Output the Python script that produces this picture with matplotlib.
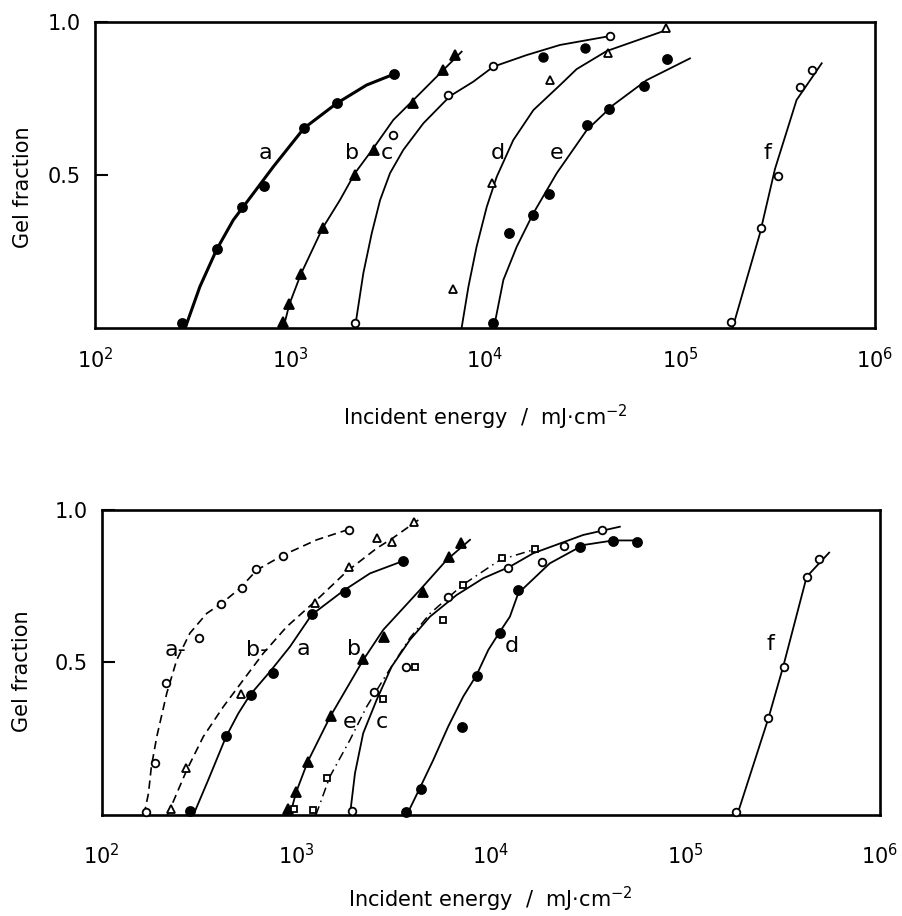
import numpy as np
import matplotlib
matplotlib.use("Agg")
import matplotlib.pyplot as plt

# ---------------- top panel data ----------------
# a : filled circles, thick line
ta_x = [278, 421, 569, 738, 1180, 1734, 3428]
ta_y = [0.015, 0.257, 0.396, 0.465, 0.653, 0.734, 0.830]
ta_cx = [290, 345, 421, 512, 649, 821, 1180, 1734, 2471, 3428]
ta_cy = [0.0, 0.135, 0.257, 0.353, 0.44, 0.527, 0.653, 0.734, 0.794, 0.830]
# b : filled triangles
tb_x = [925, 993, 1137, 1468, 2154, 2704, 4285, 6070, 7020]
tb_y = [0.02, 0.078, 0.176, 0.326, 0.50, 0.582, 0.734, 0.843, 0.892]
tb_cx = [925, 993, 1137, 1468, 1803, 2153, 2673, 3388, 4467, 5875, 7586]
tb_cy = [0.0, 0.078, 0.176, 0.326, 0.418, 0.506, 0.587, 0.680, 0.756, 0.832, 0.903]
# c : open circles (+ two filled circles)
tc_x = [2154, 3367, 6490, 10940, 44000]
tc_y = [0.015, 0.631, 0.761, 0.856, 0.954]
tc_fx = [19770, 32550]
tc_fy = [0.885, 0.916]
tc_cx = [2153, 2377, 2624, 2897, 3258, 3811, 4831, 6622, 8710, 11040, 16370, 24270, 43750]
tc_cy = [0.0, 0.179, 0.309, 0.418, 0.506, 0.582, 0.669, 0.758, 0.805, 0.854, 0.892, 0.925, 0.954]
# d : open triangles
td_x = [6890, 10820, 21530, 42500, 84700]
td_y = [0.126, 0.475, 0.810, 0.900, 0.979]
td_cx = [7586, 8222, 9057, 10210, 11480, 13960, 17700, 24270, 29510, 42070, 85510]
td_cy = [0.0, 0.135, 0.266, 0.396, 0.494, 0.614, 0.712, 0.794, 0.846, 0.905, 0.974]
# e : filled circles
te_x = [11040, 13340, 17550, 21370, 33180, 43350, 65300, 86000]
te_y = [0.015, 0.311, 0.369, 0.437, 0.663, 0.715, 0.791, 0.880]
te_cx = [11100, 12420, 14550, 17700, 23330, 33270, 45500, 67450, 112500]
te_cy = [0.0, 0.157, 0.266, 0.375, 0.506, 0.647, 0.729, 0.810, 0.881]
# f : open circles
tf_x = [182000, 259000, 316800, 412000, 478000]
tf_y = [0.02, 0.326, 0.497, 0.786, 0.843]
tf_cx = [186000, 257000, 307000, 396000, 533000]
tf_cy = [0.0, 0.309, 0.52, 0.745, 0.865]

# ---------------- bottom panel data ----------------
# a' : open circles, dashed
ba2_x = [168, 188, 213, 316, 410, 524, 621, 851, 1870]
ba2_y = [0.011, 0.171, 0.434, 0.581, 0.692, 0.743, 0.806, 0.849, 0.934]
ba2_cx = [165, 174, 180, 192, 216, 243, 284, 347, 414, 514, 627, 857, 1274, 1816]
ba2_cy = [0.0, 0.071, 0.158, 0.257, 0.399, 0.508, 0.596, 0.661, 0.694, 0.743, 0.803, 0.852, 0.902, 0.934]
# b' : open triangles, dashed
bb2_x = [226, 271, 520, 1248, 1870, 2590, 3090, 4030]
bb2_y = [0.019, 0.153, 0.396, 0.696, 0.812, 0.907, 0.896, 0.962]
bb2_cx = [218, 274, 333, 422, 535, 677, 893, 1274, 1816, 2600, 3090, 4240]
bb2_cy = [0.0, 0.148, 0.257, 0.355, 0.443, 0.530, 0.617, 0.705, 0.798, 0.875, 0.905, 0.967]
# a : filled circles
ba_x = [286, 435, 583, 757, 1208, 1778, 3548]
ba_y = [0.014, 0.259, 0.393, 0.464, 0.658, 0.732, 0.831]
ba_cx = [296, 353, 436, 504, 578, 733, 929, 1199, 1746, 2393, 3483]
ba_cy = [0.0, 0.115, 0.257, 0.333, 0.393, 0.470, 0.552, 0.656, 0.735, 0.792, 0.831]
# b : filled triangles
bb_x = [904, 998, 1146, 1507, 2208, 2833, 4467, 6110, 7000]
bb_y = [0.019, 0.074, 0.175, 0.325, 0.511, 0.583, 0.732, 0.847, 0.89]
bb_cx = [929, 998, 1146, 1493, 2208, 2800, 4325, 5930, 7816]
bb_cy = [0.0, 0.074, 0.175, 0.322, 0.508, 0.607, 0.738, 0.836, 0.902]
# e : open squares, dash-dot
be_x = [977, 1222, 1433, 2780, 4070, 5650, 7160, 11350, 16850]
be_y = [0.019, 0.016, 0.120, 0.380, 0.486, 0.639, 0.754, 0.842, 0.871]
be_cx = [1262, 1489, 1888, 2301, 2858, 3837, 4864, 7160, 11140, 16850]
be_cy = [0.0, 0.126, 0.246, 0.355, 0.453, 0.58, 0.66, 0.754, 0.836, 0.871]
# c : open circles
bc_x = [1928, 2518, 3660, 6040, 12300, 18240, 23800, 37100]
bc_y = [0.014, 0.402, 0.484, 0.716, 0.809, 0.828, 0.882, 0.934]
bc_cx = [1888, 2004, 2208, 2588, 3090, 3837, 4864, 6668, 9141, 12530, 16520, 29850, 46030]
bc_cy = [0.0, 0.137, 0.268, 0.377, 0.486, 0.574, 0.650, 0.721, 0.776, 0.814, 0.858, 0.918, 0.945]
# d : filled circles
bd_x = [3660, 4360, 7080, 8450, 11140, 13840, 28700, 42600, 56100]
bd_y = [0.011, 0.084, 0.288, 0.456, 0.598, 0.738, 0.878, 0.898, 0.896]
bd_cx = [3700, 4285, 5058, 6039, 7211, 8453, 9705, 11140, 12530, 13840, 20100, 29900, 42600, 56100]
bd_cy = [0.0, 0.084, 0.180, 0.290, 0.388, 0.459, 0.541, 0.601, 0.650, 0.727, 0.825, 0.885, 0.90, 0.90]
# f : open circles
bf_x = [183000, 267000, 322000, 420000, 488000]
bf_y = [0.011, 0.317, 0.486, 0.781, 0.839]
bf_cx = [184600, 267000, 318000, 420000, 548000]
bf_cy = [0.0, 0.317, 0.486, 0.781, 0.860]

xticks = [1e2, 1e3, 1e4, 1e5, 1e6]
xticklabels = ["$10^2$", "$10^3$", "$10^4$", "$10^5$", "$10^6$"]
xlabel = "Incident energy  /  mJ$\\cdot$cm$^{-2}$"
ylabel = "Gel fraction"

plt.rcParams['font.family'] = ['DejaVu Sans']
plt.rcParams['mathtext.fontset'] = 'dejavusans'

fig = plt.figure(figsize=(9.03, 9.16), dpi=100)
ax1 = fig.add_axes([0.1052, 0.6419, 0.8638, 0.3341])
ax2 = fig.add_axes([0.1126, 0.1103, 0.8619, 0.3330])


def series(ax, x, y, cx, cy, marker, filled, ls='-', lw=1.3, ms=6.5):
    ax.plot(cx, cy, color='black', lw=lw, ls=ls, zorder=2)
    ax.plot(x, y, ls='none', marker=marker, ms=ms,
            mfc='black' if filled else 'white', mec='black', mew=1.3,
            zorder=3, clip_on=False)


def setup(ax, xpad, lpad, ylx, yly):
    ax.set_xscale('log')
    ax.set_xlim(1e2, 1e6)
    ax.set_ylim(0, 1.0)
    ax.set_xticks(xticks)
    ax.set_xticklabels(xticklabels)
    ax.set_xticks([1e4, 1e5], minor=True)
    ax.xaxis.set_minor_formatter(matplotlib.ticker.NullFormatter())
    ax.tick_params(axis='x', which='major', length=0, pad=xpad, labelsize=15)
    ax.tick_params(axis='x', which='minor', direction='in', length=9, width=1.5)
    ax.set_yticks([0.5, 1.0])
    ax.set_yticklabels(["0.5", "1.0"])
    ax.tick_params(axis='y', direction='in', length=9, width=1.5, pad=10, labelsize=15)
    for s in ax.spines.values():
        s.set_linewidth(1.9)
    ax.set_ylabel(ylabel, fontsize=15)
    ax.yaxis.set_label_coords(ylx, yly)
    ax.set_xlabel(xlabel, fontsize=15, labelpad=lpad)


# top panel
series(ax1, ta_x, ta_y, ta_cx, ta_cy, 'o', True, lw=2.2)
series(ax1, tb_x, tb_y, tb_cx, tb_cy, '^', True)
series(ax1, tc_x, tc_y, tc_cx, tc_cy, 'o', False, ms=5.5)
ax1.plot(tc_fx, tc_fy, ls='none', marker='o', ms=6.5, color='black', zorder=3)
series(ax1, td_x, td_y, td_cx, td_cy, '^', False, ms=5.5)
series(ax1, te_x, te_y, te_cx, te_cy, 'o', True)
series(ax1, tf_x, tf_y, tf_cx, tf_cy, 'o', False, ms=5.5)

for t, x in [("a", 745), ("b", 2090), ("c", 3140), ("d", 11700), ("e", 23400), ("f", 282000)]:
    ax1.text(x, 0.572, t, fontsize=16, ha='center', va='center')

setup(ax1, 14, 22, -0.08, 0.46)

# bottom panel
series(ax2, ba2_x, ba2_y, ba2_cx, ba2_cy, 'o', False, ls=(0, (5, 3)), lw=1.2, ms=5.5)
series(ax2, bb2_x, bb2_y, bb2_cx, bb2_cy, '^', False, ls=(0, (5, 3)), lw=1.2, ms=5.5)
series(ax2, ba_x, ba_y, ba_cx, ba_cy, 'o', True)
series(ax2, bb_x, bb_y, bb_cx, bb_cy, '^', True)
series(ax2, be_x, be_y, be_cx, be_cy, 's', False, ls=(0, (6, 3, 1, 3)), lw=1.1, ms=5)
series(ax2, bc_x, bc_y, bc_cx, bc_cy, 'o', False, ms=5.5)
series(ax2, bd_x, bd_y, bd_cx, bd_cy, 'o', True)
series(ax2, bf_x, bf_y, bf_cx, bf_cy, 'o', False, ms=5.5)

for t, x, y, ha in [("a-", 210, 0.54, 'left'), ("b-", 552, 0.54, 'left'),
                    ("a", 1090, 0.545, 'center'), ("b", 1980, 0.545, 'center'),
                    ("e", 1890, 0.305, 'center'), ("c", 2750, 0.305, 'center'),
                    ("d", 12800, 0.555, 'center'), ("f", 274000, 0.56, 'center')]:
    ax2.text(x, y, t, fontsize=16, ha=ha, va='center')

setup(ax2, 20, 12, -0.09, 0.47)

fig.savefig("out.png", dpi=100)
